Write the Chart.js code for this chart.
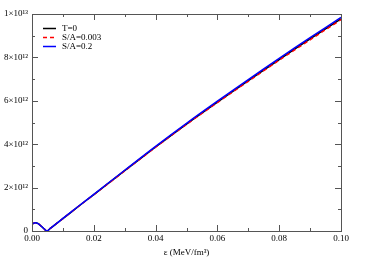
<!DOCTYPE html>
<html>
<head>
<meta charset="utf-8">
<script src="https://cdn.jsdelivr.net/npm/chart.js@4"></script>
<style>
  html, body { margin: 0; padding: 0; background: #fff; }
  #wrap { width: 381px; height: 273px; }
</style>
</head>
<body>
<div id="wrap"><canvas id="eosChart" width="381" height="273"></canvas></div>
<script>
// energy density (MeV/fm^3)
const epsValues = [0, 0.001, 0.002, 0.003, 0.004, 0.0048, 0.006, 0.008, 0.01, 0.015, 0.02, 0.03, 0.04, 0.05, 0.06, 0.07, 0.08, 0.09, 0.1];

// pressure, units of 1e12
const pT0   = [0.32, 0.38, 0.34, 0.22, 0.09, 0.0, 0.13, 0.35, 0.57, 1.13, 1.68, 2.78, 3.87, 4.93, 5.94, 6.93, 7.90, 8.85, 9.78];
const pS003 = [0.32, 0.38, 0.34, 0.22, 0.09, 0.0, 0.13, 0.35, 0.57, 1.13, 1.67, 2.77, 3.86, 4.91, 5.92, 6.90, 7.87, 8.81, 9.74];
const pS02  = [0.32, 0.38, 0.34, 0.22, 0.09, 0.0, 0.13, 0.35, 0.58, 1.14, 1.69, 2.80, 3.90, 4.96, 5.98, 6.98, 7.96, 8.91, 9.84];

const seriesLabels = ["T=0", "S/A=0.003", "S/A=0.2"];
const yTickLabels = { 0: "0", 2: "2×10¹²", 4: "4×10¹²", 6: "6×10¹²", 8: "8×10¹²", 10: "1×10¹³" };

const FONT = "'Liberation Serif', 'DejaVu Serif', serif";

function toPoints(arr) {
    return epsValues.map((e, i) => ({ x: e, y: arr[i] * 1e12 }));
}

// frame, inward ticks and legend
const framePlugin = {
    id: "frame",
    afterDraw(chart) {
        const ctx = chart.ctx;
        const a = chart.chartArea;
        const xs = chart.scales.x;
        const ys = chart.scales.y;
        ctx.save();
        ctx.strokeStyle = "#555";
        ctx.lineWidth = 1;
        ctx.strokeRect(a.left + 0.5, a.top + 0.5, a.right - a.left, a.bottom - a.top);

        ctx.beginPath();
        for (let i = 0; i <= 10; i++) {
            const px = Math.round(xs.getPixelForValue(i * 0.01)) + 0.5;
            const len = i % 2 === 0 ? 6 : 3;
            ctx.moveTo(px, a.bottom); ctx.lineTo(px, a.bottom - len);
            ctx.moveTo(px, a.top); ctx.lineTo(px, a.top + len);
        }
        for (let i = 0; i <= 10; i++) {
            const py = Math.round(ys.getPixelForValue(i * 1e12)) + 0.5;
            const len = i % 2 === 0 ? 6 : 3;
            ctx.moveTo(a.left, py); ctx.lineTo(a.left + len, py);
            ctx.moveTo(a.right, py); ctx.lineTo(a.right - len, py);
        }
        ctx.stroke();

        // legend
        ctx.font = "9px " + FONT;
        ctx.textBaseline = "middle";
        chart.data.datasets.forEach((ds, k) => {
            const y = 28.5 + k * 9;
            ctx.strokeStyle = ds.borderColor;
            ctx.lineWidth = 1.5;
            ctx.setLineDash(ds.borderDash || []);
            ctx.beginPath();
            ctx.moveTo(43, y); ctx.lineTo(56, y);
            ctx.stroke();
            ctx.setLineDash([]);
            ctx.fillStyle = "#000";
            ctx.fillText(ds.label, 62, y);
        });
        ctx.restore();
    }
};

new Chart(document.getElementById("eosChart"), {
    type: "line",
    data: {
        datasets: [
            {
                label: seriesLabels[0],
                data: toPoints(pT0),
                borderColor: "#000000",
                borderWidth: 1.5,
                pointRadius: 0,
                tension: 0.3,
                order: 2
            },
            {
                label: seriesLabels[1],
                data: toPoints(pS003),
                borderColor: "#ff0000",
                borderWidth: 1.5,
                borderDash: [4, 3],
                pointRadius: 0,
                tension: 0.3,
                order: 1
            },
            {
                label: seriesLabels[2],
                data: toPoints(pS02),
                borderColor: "#0000ff",
                borderWidth: 1.5,
                pointRadius: 0,
                tension: 0.3,
                order: 0
            }
        ]
    },
    options: {
        responsive: false,
        animation: false,
        layout: { padding: { top: 14, right: 40, left: 0, bottom: 15 } },
        plugins: {
            legend: { display: false },
            tooltip: { enabled: false }
        },
        scales: {
            x: {
                type: "linear",
                min: 0,
                max: 0.1,
                grid: { display: false, drawTicks: false },
                border: { display: false },
                ticks: {
                    stepSize: 0.02,
                    color: "#000",
                    font: { family: FONT, size: 9 },
                    padding: 2,
                    maxRotation: 0,
                    callback: v => v.toFixed(2)
                },
                title: {
                    display: true,
                    text: "ε (MeV/fm³)",
                    color: "#000",
                    font: { family: FONT, size: 9 },
                    padding: { top: 4, bottom: 0 }
                },
                afterFit: s => { s.height = 27; }
            },
            y: {
                type: "linear",
                min: 0,
                max: 1e13,
                grid: { display: false, drawTicks: false },
                border: { display: false },
                ticks: {
                    stepSize: 2e12,
                    color: "#000",
                    font: { family: FONT, size: 9 },
                    padding: 4,
                    callback: v => yTickLabels[Math.round(v / 1e12)]
                },
                afterFit: s => { s.width = 32; }
            }
        }
    },
    plugins: [framePlugin]
});
</script>
</body>
</html>
